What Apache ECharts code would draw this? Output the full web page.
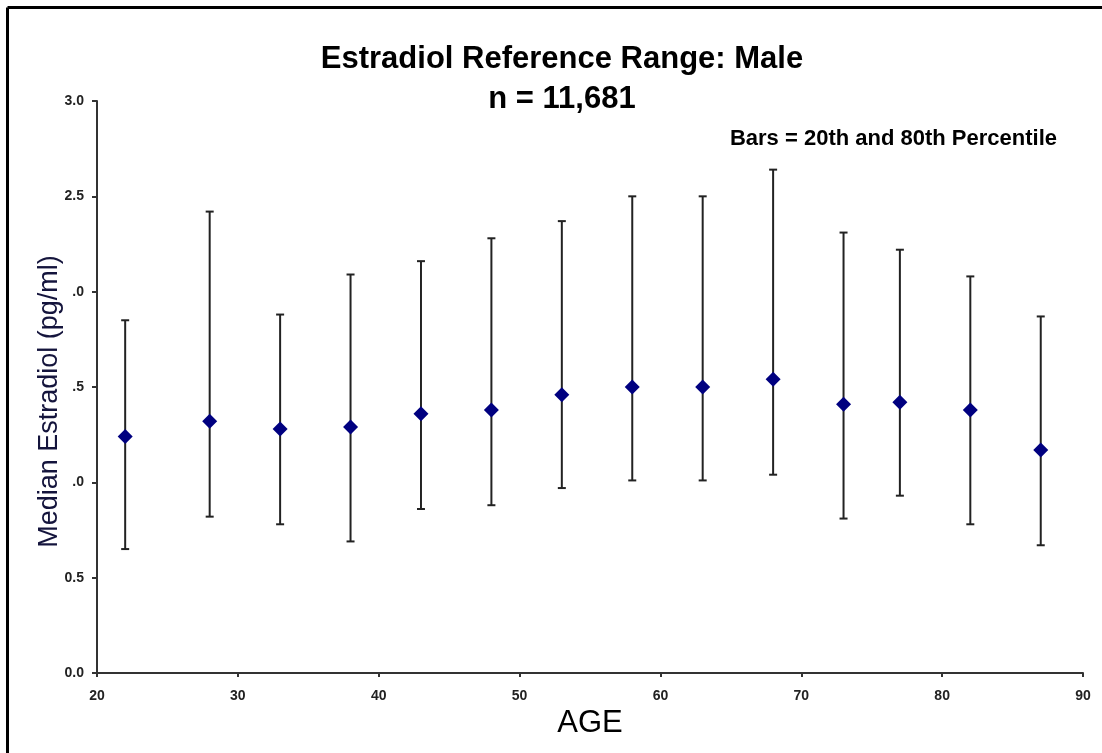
<!DOCTYPE html>
<html>
<head>
<meta charset="utf-8">
<script src="https://cdn.jsdelivr.net/npm/echarts@6/dist/echarts.min.js"></script>
<style>
html,body{margin:0;padding:0;background:#fff;}
#chart{width:1102px;height:753px;}
</style>
</head>
<body>
<div id="chart"></div>
<script>
// Data
const ages = [22, 28, 33, 38, 43, 48, 53, 58, 63, 68, 73, 77, 82, 87];
const median = [1.24, 1.32, 1.28, 1.29, 1.36, 1.38, 1.46, 1.50, 1.50, 1.54, 1.41, 1.42, 1.38, 1.17];
const p20 = [0.65, 0.82, 0.78, 0.69, 0.86, 0.88, 0.97, 1.01, 1.01, 1.04, 0.81, 0.93, 0.78, 0.67];
const p80 = [1.85, 2.42, 1.88, 2.09, 2.16, 2.28, 2.37, 2.50, 2.50, 2.64, 2.31, 2.22, 2.08, 1.87];
const titleLines = ['Estradiol Reference Range: Male', 'n = 11,681'];
const noteText = 'Bars = 20th and 80th Percentile';
const xName = 'AGE';
const yName = 'Median Estradiol (pg/ml)';

const FONT = '"Liberation Sans", Arial, sans-serif';
const chart = echarts.init(document.getElementById('chart'), null, {renderer: 'canvas'});

const medianData = ages.map((a, i) => [a, median[i]]);
const barData = ages.map((a, i) => [a, p20[i], p80[i]]);

const option = {
  backgroundColor: '#fff',
  animation: false,
  title: [
    {
      text: titleLines.join('\n'),
      left: 562,
      textAlign: 'center',
      top: 39,
      padding: 0,
      textStyle: {fontFamily: FONT, fontSize: 31, fontWeight: 'bold', color: '#000', lineHeight: 40}
    },
    {
      text: noteText,
      right: 45,
      top: 128,
      padding: 0,
      textStyle: {fontFamily: FONT, fontSize: 22, fontWeight: 'bold', color: '#000'}
    }
  ],
  grid: {left: 97, right: 19, top: 101, bottom: 80, containLabel: false},
  xAxis: {
    type: 'value', min: 20, max: 90, interval: 10,
    name: xName, nameLocation: 'middle', nameGap: 31,
    nameTextStyle: {fontFamily: FONT, fontSize: 31, color: '#000'},
    axisLine: {show: true, onZero: false, lineStyle: {color: '#333', width: 2}},
    axisTick: {show: true, inside: false, length: 4, lineStyle: {color: '#333', width: 2}},
    axisLabel: {fontFamily: FONT, fontSize: 14, fontWeight: 'bold', color: '#222', margin: 16},
    splitLine: {show: false}
  },
  yAxis: {
    type: 'value', min: 0, max: 3, interval: 0.5,
    axisLine: {show: true, onZero: false, lineStyle: {color: '#333', width: 2}},
    axisTick: {show: true, inside: false, length: 5, lineStyle: {color: '#333', width: 2}},
    axisLabel: {fontFamily: FONT, fontSize: 14, fontWeight: 'bold', color: '#222', margin: 13,
      formatter: v => v.toFixed(1)},
    splitLine: {show: false}
  },
  graphic: [
    {type: 'line', z: 100, shape: {x1: 7.5, y1: 7.5, x2: 7.5, y2: 753}, style: {stroke: '#000', lineWidth: 3}},
    {type: 'line', z: 100, shape: {x1: 7.5, y1: 7.5, x2: 1102, y2: 7.5}, style: {stroke: '#000', lineWidth: 3}},
    {
      type: 'text', z: 100, x: 50, y: 387, rotation: Math.PI / 2,
      style: {
        text: yName, font: '27px ' + FONT, fill: '#14143c',
        align: 'center', verticalAlign: 'middle',
        backgroundColor: '#fff', padding: [2, 53, 16, 24], lineHeight: 26
      }
    }
  ],
  series: [
    {
      type: 'custom',
      name: 'Percentile bars',
      data: barData,
      z: 2,
      renderItem: function (params, api) {
        const x = api.value(0);
        const lo = api.coord([x, api.value(1)]);
        const hi = api.coord([x, api.value(2)]);
        const cap = 4;
        const st = {stroke: '#222', lineWidth: 2};
        return {
          type: 'group',
          children: [
            {type: 'line', shape: {x1: lo[0], y1: lo[1], x2: hi[0], y2: hi[1]}, style: st},
            {type: 'line', shape: {x1: lo[0] - cap, y1: lo[1], x2: lo[0] + cap, y2: lo[1]}, style: st},
            {type: 'line', shape: {x1: hi[0] - cap, y1: hi[1], x2: hi[0] + cap, y2: hi[1]}, style: st}
          ]
        };
      }
    },
    {
      type: 'scatter',
      name: 'Median',
      data: medianData,
      symbol: 'diamond',
      symbolSize: [15, 15],
      z: 3,
      itemStyle: {color: '#000080', opacity: 1}
    }
  ]
};
chart.setOption(option);
</script>
</body>
</html>
